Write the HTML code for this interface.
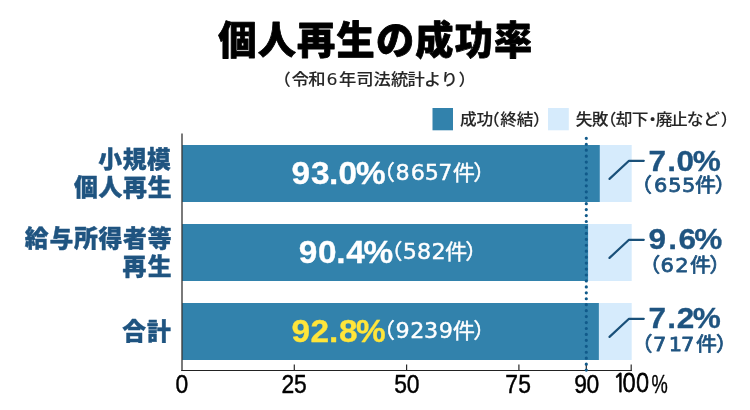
<!DOCTYPE html>
<html lang="ja">
<head>
<meta charset="utf-8">
<title>個人再生の成功率</title>
<style>
html,body{margin:0;padding:0;background:#fff;}
body{width:750px;height:410px;overflow:hidden;}
svg{display:block;}
text{white-space:pre;}
</style>
</head>
<body>
<svg width="750" height="410" viewBox="0 0 750 410">
<rect x="0" y="0" width="750" height="410" fill="#ffffff"/>
<text x="218.27 257.67 297.08 336.48 375.88 415.28 454.69 494.09" y="53.5" font-family='"Noto Sans CJK JP", sans-serif' font-weight="900" font-size="38.2" fill="#000" stroke="#000" stroke-width="0.8" stroke-linejoin="round" stroke-linecap="round">個人再生の成功率</text>
<text transform="translate(273.47 85.2) scale(1.000 0.930)" x="0 18.38 34.87 53.17 65.52 82.73 100.09 117.52 133.98 150.66 167.39 185" y="0" font-family='"DejaVu Sans", "Noto Sans CJK JP", sans-serif' font-weight="500" font-size="17.3" fill="#262626" stroke="#262626" stroke-width="0.1" stroke-linejoin="round" stroke-linecap="round">（令和6年司法統計より）</text>
<rect x="432.5" y="108" width="20.5" height="22.3" fill="#3282ac"/>
<text transform="translate(459.93 125.3) scale(1.000 0.950)" x="0 16.47 23.14 40.37 56.77 73.07" y="0" font-family='"Noto Sans CJK JP", sans-serif' font-weight="500" font-size="16.7" fill="#262626" stroke="#262626" stroke-width="0.1" stroke-linejoin="round" stroke-linecap="round">成功（終結）</text>
<rect x="548" y="108" width="20.8" height="22.3" fill="#d6ebfc"/>
<text transform="translate(575.75 125.3) scale(1.000 0.950)" x="0 16.03 23.93 40.02 55.9 68.49 79.9 95.35 110.95 127.56 145.05" y="0" font-family='"Noto Sans CJK JP", sans-serif' font-weight="500" font-size="16.7" fill="#262626" stroke="#262626" stroke-width="0.1" stroke-linejoin="round" stroke-linecap="round">失敗（却下・廃止など）</text>
<rect x="182" y="145" width="449.7" height="57" fill="#d6ebfc"/>
<rect x="182" y="145" width="417.76" height="57" fill="#3282ac"/>
<rect x="182" y="224" width="449.7" height="57" fill="#d6ebfc"/>
<rect x="182" y="224" width="406.08" height="57" fill="#3282ac"/>
<rect x="182" y="303" width="449.7" height="57" fill="#d6ebfc"/>
<rect x="182" y="303" width="416.86" height="57" fill="#3282ac"/>
<path d="M182 133.4V371" fill="none" stroke="#3a3a3a" stroke-width="1.35"/>
<path d="M181.3 370.5H631.9" fill="none" stroke="#222" stroke-width="1.1"/>
<path d="M294.3 364.6V370.5" fill="none" stroke="#2a2a2a" stroke-width="1.2"/>
<path d="M406.6 364.6V370.5" fill="none" stroke="#2a2a2a" stroke-width="1.2"/>
<path d="M518.9 364.6V370.5" fill="none" stroke="#2a2a2a" stroke-width="1.2"/>
<path d="M631.2 364.6V370.5" fill="none" stroke="#2a2a2a" stroke-width="1.2"/>
<path d="M586.3 364.6V370.5" fill="none" stroke="#2a2a2a" stroke-width="1.2"/>
<path d="M586.3 138.3V370.3" fill="none" stroke="#115a8a" stroke-width="3.2" stroke-linecap="round" stroke-dasharray="0 5.943"/>
<text x="98.3 122.65 147.01" y="168.2" font-family='"Noto Sans CJK JP", sans-serif' font-weight="900" font-size="23.8" fill="#1f5480" stroke="#1f5480" stroke-width="0.4" stroke-linejoin="round" stroke-linecap="round">小規模</text>
<text x="73.96 98.54 123.12 147.7" y="196.1" font-family='"Noto Sans CJK JP", sans-serif' font-weight="900" font-size="23.8" fill="#1f5480" stroke="#1f5480" stroke-width="0.4" stroke-linejoin="round" stroke-linecap="round">個人再生</text>
<text x="24.86 49.42 73.98 98.54 123.09 147.65" y="246.8" font-family='"Noto Sans CJK JP", sans-serif' font-weight="900" font-size="23.8" fill="#1f5480" stroke="#1f5480" stroke-width="0.4" stroke-linejoin="round" stroke-linecap="round">給与所得者等</text>
<text x="122.41 147.7" y="275.3" font-family='"Noto Sans CJK JP", sans-serif' font-weight="900" font-size="23.8" fill="#1f5480" stroke="#1f5480" stroke-width="0.4" stroke-linejoin="round" stroke-linecap="round">再生</text>
<text x="122.29 147.1" y="339.8" font-family='"Noto Sans CJK JP", sans-serif' font-weight="900" font-size="23.8" fill="#1f5480" stroke="#1f5480" stroke-width="0.4" stroke-linejoin="round" stroke-linecap="round">合計</text>
<text transform="translate(291.39 183.9) scale(1.080 1.000)" x="0 18.14 34.9 43.74 59.75" y="0" font-family='"Liberation Sans", "Noto Sans CJK JP", sans-serif' font-weight="700" font-size="30.9" fill="#fff" stroke="#fff" stroke-width="0.3" stroke-linejoin="round" stroke-linecap="round">93.0%</text>
<text transform="translate(372.73 180.4) scale(1.060 1.000)" x="0 21.38 35.77 49.01 61.74 75.43 94.76" y="0" font-family='"DejaVu Sans", "Noto Sans CJK JP", sans-serif' font-weight="400" font-size="21" fill="#fff" stroke="#fff" stroke-width="0.4" stroke-linejoin="round" stroke-linecap="round">（8657件）</text>
<text transform="translate(298.69 262.7) scale(1.080 1.000)" x="0 17.9 34.9 43.94 60.02" y="0" font-family='"Liberation Sans", "Noto Sans CJK JP", sans-serif' font-weight="700" font-size="30.9" fill="#fff" stroke="#fff" stroke-width="0.3" stroke-linejoin="round" stroke-linecap="round">90.4%</text>
<text transform="translate(380.23 259.4) scale(1.060 1.000)" x="0 21.28 34.77 48.43 61.19 80.14" y="0" font-family='"DejaVu Sans", "Noto Sans CJK JP", sans-serif' font-weight="400" font-size="21" fill="#fff" stroke="#fff" stroke-width="0.4" stroke-linejoin="round" stroke-linecap="round">（582件）</text>
<text transform="translate(291.39 341.7) scale(1.080 1.000)" x="0 17.78 34.9 43.98 59.75" y="0" font-family='"Liberation Sans", "Noto Sans CJK JP", sans-serif' font-weight="700" font-size="30.9" fill="#ffe53a" stroke="#ffe53a" stroke-width="0.3" stroke-linejoin="round" stroke-linecap="round">92.8%</text>
<text transform="translate(372.73 338.4) scale(1.060 1.000)" x="0 21.48 35.32 48.47 62.33 75.43 94.76" y="0" font-family='"DejaVu Sans", "Noto Sans CJK JP", sans-serif' font-weight="400" font-size="21" fill="#fff" stroke="#fff" stroke-width="0.4" stroke-linejoin="round" stroke-linecap="round">（9239件）</text>
<path d="M609.5 178.9L629 160.8H643.8" fill="none" stroke="#1a5079" stroke-width="2.2" stroke-linecap="round" stroke-linejoin="round"/>
<path d="M609.5 257.9L629 239.8H643.8" fill="none" stroke="#1a5079" stroke-width="2.2" stroke-linecap="round" stroke-linejoin="round"/>
<path d="M609.5 336.9L629 318.8H643.8" fill="none" stroke="#1a5079" stroke-width="2.2" stroke-linecap="round" stroke-linejoin="round"/>
<text transform="translate(648.39 170.6) scale(1.080 1.000)" x="0 17.51 26.03 40.99" y="0" font-family='"Liberation Sans", "Noto Sans CJK JP", sans-serif' font-weight="700" font-size="29.2" fill="#1f5480" stroke="#1f5480" stroke-width="0.3" stroke-linejoin="round" stroke-linecap="round">7.0%</text>
<text transform="translate(631.09 192.2) scale(1.060 1.000)" x="0 21.53 34.97 47.99 60.39 78.98" y="0" font-family='"DejaVu Sans", "Noto Sans CJK JP", sans-serif' font-weight="400" font-size="19.8" fill="#1f5480" stroke="#1f5480" stroke-width="0.75" stroke-linejoin="round" stroke-linecap="round">（655件）</text>
<text transform="translate(648.46 249.4) scale(1.080 1.000)" x="0 18.38 27.91 42.41" y="0" font-family='"Liberation Sans", "Noto Sans CJK JP", sans-serif' font-weight="700" font-size="29.2" fill="#1f5480" stroke="#1f5480" stroke-width="0.3" stroke-linejoin="round" stroke-linecap="round">9.6%</text>
<text transform="translate(639.19 271.8) scale(1.060 1.000)" x="0 20.11 34.01 47.84 66.25" y="0" font-family='"DejaVu Sans", "Noto Sans CJK JP", sans-serif' font-weight="400" font-size="19.8" fill="#1f5480" stroke="#1f5480" stroke-width="0.75" stroke-linejoin="round" stroke-linecap="round">（62件）</text>
<text transform="translate(648.39 328) scale(1.080 1.000)" x="0 17.51 26.17 40.99" y="0" font-family='"Liberation Sans", "Noto Sans CJK JP", sans-serif' font-weight="700" font-size="29.2" fill="#1f5480" stroke="#1f5480" stroke-width="0.3" stroke-linejoin="round" stroke-linecap="round">7.2%</text>
<text transform="translate(631.39 350.6) scale(1.060 1.000)" x="0 20.44 35.17 46.85 61.05 79.83" y="0" font-family='"DejaVu Sans", "Noto Sans CJK JP", sans-serif' font-weight="400" font-size="19.8" fill="#1f5480" stroke="#1f5480" stroke-width="0.75" stroke-linejoin="round" stroke-linecap="round">（717件）</text>
<text transform="translate(175.53 392.5) scale(0.900 1.000)" x="0" y="0" font-family='"Liberation Sans", "Noto Sans CJK JP", sans-serif' font-weight="400" font-size="25.4" fill="#000" stroke="#000" stroke-width="0.45" stroke-linejoin="round" stroke-linecap="round">0</text>
<text transform="translate(281.48 392.5) scale(0.900 1.000)" x="0 14.05" y="0" font-family='"Liberation Sans", "Noto Sans CJK JP", sans-serif' font-weight="400" font-size="25.4" fill="#000" stroke="#000" stroke-width="0.45" stroke-linejoin="round" stroke-linecap="round">25</text>
<text transform="translate(394.21 392.5) scale(0.900 1.000)" x="0 14.05" y="0" font-family='"Liberation Sans", "Noto Sans CJK JP", sans-serif' font-weight="400" font-size="25.4" fill="#000" stroke="#000" stroke-width="0.45" stroke-linejoin="round" stroke-linecap="round">50</text>
<text transform="translate(505.35 392.5) scale(0.900 1.000)" x="0 14.41" y="0" font-family='"Liberation Sans", "Noto Sans CJK JP", sans-serif' font-weight="400" font-size="25.4" fill="#000" stroke="#000" stroke-width="0.45" stroke-linejoin="round" stroke-linecap="round">75</text>
<text transform="translate(574.35 392.5) scale(0.900 1.000)" x="0 13.45" y="0" font-family='"Liberation Sans", "Noto Sans CJK JP", sans-serif' font-weight="400" font-size="25.4" fill="#000" stroke="#000" stroke-width="0.45" stroke-linejoin="round" stroke-linecap="round">90</text>
<text transform="translate(612.94 392.3) scale(0.880 1.000)" x="0 10.57 26.03" y="0" font-family='"NanumGothic", "Liberation Sans", sans-serif' font-weight="400" font-size="25.3" fill="#000" stroke="#000" stroke-width="0.8" stroke-linejoin="round" stroke-linecap="round">100</text>
<text transform="translate(651.55 392.5) scale(0.720 1.000)" x="0" y="0" font-family='"Liberation Sans", "Noto Sans CJK JP", sans-serif' font-weight="400" font-size="25.4" fill="#000" stroke="#000" stroke-width="0.4" stroke-linejoin="round" stroke-linecap="round">%</text>
</svg>
</body>
</html>
